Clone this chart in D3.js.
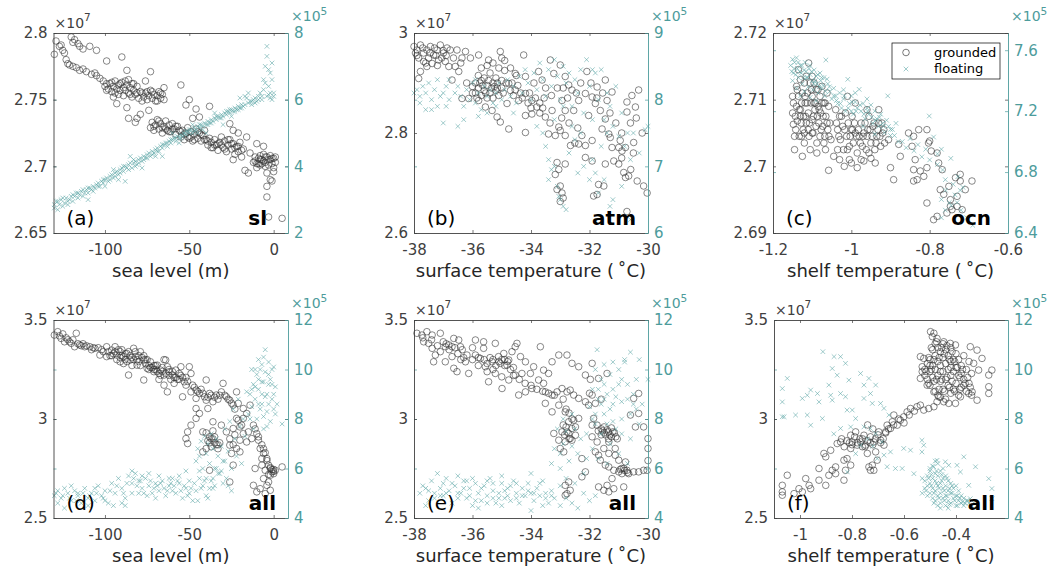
<!DOCTYPE html>
<html><head><meta charset="utf-8">
<script src="https://cdn.jsdelivr.net/npm/d3@7"></script>
<style>body{margin:0;background:#fff}text{font-family:"DejaVu Sans",sans-serif}</style>
</head><body><svg id="c" width="1056" height="576"></svg>
<script>
// ---------- data (flat x,y pairs); grounded in x10^7, floating in x10^5 ----------
const groundedSL = [-130,2.784,-129,2.794,-127,2.79,-126,2.791,-125,2.787,-124,2.785,-123,2.78,-122,2.777,-120,2.797,-119,2.793,-118,2.795,-116,2.792,-115,2.79,-113,2.788,-109,2.79,-105,2.787,
-121,2.776,-119,2.775,-117,2.774,-115,2.772,-113,2.773,-111,2.771,-108,2.769,-106,2.77,-105,2.768,-103,2.766,-101,2.764,-99,2.762,-99,2.779,-90,2.782,-87,2.772,-73,2.771,
-100,2.76,-98,2.758,-97,2.762,-96,2.756,-95,2.76,-94,2.764,-93,2.758,-92,2.754,-92,2.761,-91,2.757,-90,2.763,-89,2.759,-89,2.753,-88,2.757,-87,2.761,-86,2.755,-86,2.765,-85,2.759,-84,2.752,-84,2.762,-83,2.757,-82,2.754,-81,2.76,-80,2.751,-79,2.756,-93,2.747,-87,2.744,-95,2.752,
-78,2.749,-77,2.752,-76,2.755,-75,2.75,-74,2.753,-73,2.757,-72,2.751,-71,2.754,-70,2.749,-69,2.753,-68,2.756,-67,2.751,-66,2.754,-65,2.75,
-76,2.764,-65,2.759,-86,2.736,-81,2.736,-79,2.739,-74,2.742,-82,2.733,
-73,2.729,-72,2.733,-71,2.727,-70,2.731,-69,2.735,-68,2.728,-67,2.732,-66,2.725,-65,2.73,-64,2.734,-63,2.727,-62,2.731,-61,2.726,-60,2.732,-59,2.728,-58,2.724,-57,2.73,-56,2.727,
-55,2.761,-50,2.75,-52,2.746,-46,2.743,-38,2.745,-44,2.737,-48,2.736,
-55,2.722,-54,2.727,-53,2.72,-52,2.725,-51,2.729,-50,2.721,-49,2.726,-48,2.719,-47,2.724,-46,2.728,-45,2.721,-44,2.725,-43,2.719,-42,2.723,-41,2.727,-40,2.72,
-39,2.716,-38,2.721,-37,2.718,-36,2.714,-35,2.72,-34,2.716,-33,2.712,-32,2.718,-31,2.722,-30,2.714,-29,2.719,-28,2.711,-27,2.716,-26,2.72,-25,2.713,-24,2.717,-23,2.709,-22,2.715,-21,2.711,-20,2.718,-19,2.707,-18,2.713,
-26,2.732,-24,2.727,-21,2.725,-16,2.722,-10,2.717,-6,2.715,-24,2.705,-17,2.697,-15,2.695,-14,2.71,
-12,2.703,-11,2.707,-10,2.702,-9,2.706,-8,2.701,-7,2.705,-6,2.709,-5,2.703,-4,2.707,-3,2.701,-2,2.705,-1,2.702,0,2.706,1,2.703,-8,2.708,-5,2.7,-2,2.708,0,2.699,
-10,2.699,-4,2.695,-2,2.69,-4,2.685,-4,2.677,-1,2.689,0,2.696,-3,2.662,5,2.661,
-99,2.757,-96,2.763,-94,2.755,-91,2.762,-88,2.764,-85,2.754,-83,2.762,-81,2.755,-78,2.755,-75,2.756,-72,2.756,-69,2.749,-67,2.755,-71,2.73,-68,2.734,-66,2.729,-64,2.728,-62,2.726,-60,2.728,-58,2.73,-55,2.726,-53,2.724,-51,2.722,-49,2.722,-47,2.72,-45,2.726,-43,2.724,-41,2.72,-39,2.719,-37,2.714,-35,2.716,-33,2.717,-31,2.716,-29,2.713,-27,2.72,-25,2.717,-23,2.714,-21,2.715,-19,2.712,-11,2.704,-9,2.702,-7,2.702,-5,2.707,-3,2.705,-1,2.706,1,2.707,-6,2.704,-8,2.705];
const floatingSL = [-130,2.85,-130,2.75,-129,2.95,-128,2.7,-127,2.85,-126,3.0,-125,2.8,-124,2.9,-123,3.05,-122,2.95,-121,3.0,-120,3.1,-119,2.95,-118,3.1,-117,3.2,-116,3.05,-115,3.15,-114,3.25,-113,3.1,-112,3.2,-111,3.3,-110,3.2,-109,3.35,-108,3.3,-107,3.4,-106,3.35,-105,3.45,-104,3.5,-103,3.4,-102,3.55,-101,3.5,-100,3.6,-99,3.65,-98,3.55,-97,3.7,-96,3.75,-95,3.65,-94,3.8,-93,3.85,-92,3.75,-91,3.9,-90,3.95,-89,3.85,-88,4.0,-87,3.95,-86,4.05,-85,4.1,-84,3.95,-83,4.1,-82,4.15,-81,4.05,-80,4.2,-79,4.25,-78,4.15,-77,4.3,-76,4.25,-75,4.35,-74,4.4,-73,4.3,-72,4.45,-71,4.4,-70,4.5,-69,4.55,-68,4.45,-67,4.6,-66,4.55,-65,4.65,-64,4.7,-63,4.6,-62,4.75,-61,4.7,-60,4.8,-59,4.85,-58,4.75,-57,4.9,-56,4.85,-55,4.95,-54,4.9,-53,5.0,-52,4.95,-51,5.05,-50,5.0,-49,5.1,-48,5.0,-47,5.15,-46,5.1,-45,5.2,-44,5.15,-43,5.25,-42,5.2,-41,5.3,-40,5.25,-39,5.35,-38,5.3,-37,5.4,-36,5.35,-35,5.45,-34,5.4,-33,5.5,-32,5.45,-31,5.55,-30,5.5,-29,5.6,-28,5.55,-27,5.65,-26,5.6,-25,5.7,-24,5.65,-23,5.75,-22,5.7,-21,5.8,-20,5.75,-19,5.85,-18,5.8,-17,6.1,-16,6.05,-15,5.9,-14,5.95,-13,5.85,-12,6.0,-11,6.05,-10,5.95,-9,6.1,-8,6.2,-7,6.0,-6,6.3,-5,6.5,-4,6.1,-3,6.4,-2,6.2,-1,6.0,0,6.1,0,6.2,-1,6.6,
-6,6.6,-5,7.0,-4,7.3,-4,7.6,-2,6.8,-3,6.9,-1,7.1,-92,3.6,-88,3.55,-78,3.95,-85,4.3,-66,4.3,-60,5.0,-48,5.25,-30,5.25,-40,5.0,-110,3.0,-100,3.4,-95,3.9,-82,4.0,-70,4.3,-56,4.7,-45,5.0,-35,5.6,-25,5.5,-20,6.05,-15,6.2,
-128,2.95,-125,3.05,-122,2.85,-119,3.15,-116,3.2,-113,3.3,-110,3.35,-107,3.25,-104,3.4,-101,3.6,-97,3.6,-94,3.7,-91,3.8,-89,4.0,-86,3.9,-83,4.2,-80,4.1,-77,4.2,-75,4.25,-72,4.35,-69,4.45,-66,4.65,-63,4.7,-61,4.8,-58,4.85,-55,4.85,-52,5.05,-50,5.1,-47,5.05,-44,5.25,-42,5.1,-39,5.25,-37,5.3,-34,5.5,-31,5.45,-28,5.65,-26,5.7,-23,5.65,-21,5.7,-19,5.75,-17,5.85,-13,5.95,-11,5.9,-9,6.0,-7,6.1,-3,6.15,-2,6.05];

const groundedATM = [-38.0,2.973,-37.9,2.966,-37.78,2.976,-37.67,2.96,-37.56,2.966,-37.44,2.973,-37.33,2.956,-37.21,2.966,-37.1,2.976,-36.99,2.96,-36.87,2.97,-36.76,2.966,-37.84,2.95,-37.67,2.943,-37.38,2.939,-37.16,2.946,-36.93,2.943,-36.81,2.933,-37.78,2.923,-37.84,2.909,-37.56,2.933,-37.95,2.96,-37.5,2.95,-37.25,2.955,-37.05,2.95,
-36.53,2.966,-36.24,2.963,-36.36,2.95,-36.07,2.95,-35.79,2.956,-35.45,2.946,-35.05,2.963,-36.59,2.933,-36.47,2.923,-36.7,2.906,-36.36,2.869,-36.13,2.869,
-35.9,2.9,-35.8,2.89,-35.7,2.905,-35.6,2.885,-35.5,2.895,-35.4,2.88,-35.3,2.9,-35.2,2.885,-35.1,2.875,-35.0,2.89,-35.7,2.875,-35.5,2.87,-35.9,2.88,-35.3,2.87,-36.0,2.893,-35.6,2.91,-35.4,2.92,-35.2,2.91,-35.0,2.905,-35.8,2.915,-35.65,2.895,-35.45,2.905,-35.25,2.893,-35.15,2.9,
-35.7,2.93,-35.5,2.935,-35.3,2.94,-35.1,2.93,-34.9,2.925,-34.7,2.93,-34.5,2.915,-35.0,2.95,-34.9,2.945,
-34.76,2.899,-34.54,2.886,-34.42,2.865,-34.19,2.879,-33.97,2.865,-33.8,2.852,-33.97,2.838,-34.19,2.835,-34.6,2.875,-34.3,2.87,-34.05,2.88,-34.7,2.885,
-35.33,2.845,-35.16,2.832,-35.05,2.822,-34.76,2.808,-34.19,2.801,-35.79,2.865,-35.56,2.852,-34.82,2.859,
-34.25,2.956,-34.54,2.919,-34.19,2.913,-33.74,2.923,-33.62,2.906,-33.34,2.946,-33.0,2.936,-32.83,2.913,-33.22,2.919,-33.9,2.9,-33.5,2.89,
-33.51,2.832,-33.28,2.845,-33.4,2.798,-33.17,2.795,-33.05,2.812,-32.83,2.795,-32.83,2.845,-32.94,2.865,-32.6,2.886,-32.71,2.896,-32.37,2.865,-32.54,2.845,-32.37,2.778,-32.14,2.775,-31.91,2.785,-32.26,2.795,-32.03,2.835,-31.91,2.872,-32.14,2.879,-31.74,2.892,-31.46,2.906,-32.09,2.923,-31.8,2.859,-31.63,2.845,-31.46,2.828,-31.57,2.808,-31.34,2.798,-31.23,2.882,-31.4,2.865,-33.35,2.82,-33.6,2.85,-32.95,2.83,-32.5,2.78,-32.65,2.775,
-33.11,2.741,-33.05,2.727,-33.17,2.717,-32.83,2.738,-33.0,2.694,-32.94,2.68,-33.0,2.663,-33.11,2.687,-33.0,2.805,-32.9,2.67,
-32.14,2.751,-31.91,2.744,-31.69,2.697,-31.74,2.677,-31.86,2.674,-31.51,2.694,-31.46,2.738,
-31.23,2.771,-31.0,2.771,-30.89,2.764,-31.17,2.744,-31.0,2.738,-30.83,2.721,-30.66,2.714,-30.77,2.711,-30.59,2.727,-30.37,2.704,-30.15,2.694,-30.03,2.68,
-30.72,2.862,-30.72,2.842,-30.55,2.875,-30.43,2.852,-30.32,2.886,-30.49,2.781,-30.95,2.785,-31.29,2.791,-30.77,2.771,-30.72,2.643,
-37.9,2.955,-37.7,2.97,-37.45,2.96,-37.3,2.97,-37.0,2.965,-36.9,2.955,-37.6,2.94,-37.2,2.935,-36.65,2.95,-36.4,2.94,-36.2,2.9,-36.0,2.88,-35.85,2.87,-35.75,2.9,-35.55,2.88,-35.35,2.89,-35.15,2.89,-34.95,2.88,-34.85,2.9,-34.65,2.9,-34.45,2.895,-34.35,2.88,-34.1,2.86,-33.85,2.87,-33.7,2.86,-33.55,2.87,-33.3,2.875,-33.1,2.89,-32.9,2.89,-32.75,2.87,-32.45,2.88,-32.3,2.9,-31.95,2.9,-31.75,2.87,-31.55,2.88,-31.3,2.84,-31.1,2.82,-30.9,2.8,-30.6,2.82,-30.4,2.83,-30.2,2.8,-30.5,2.76,-30.9,2.75,-32.7,2.82,-32.4,2.81,-33.7,2.84,-34.0,2.85];
const floatingATM = [-38,8.1,-37.9,8.15,-37.8,8.05,-37.7,8.2,-37.6,8.1,-37.5,8.25,-37.4,8.0,-37.3,8.15,-37.2,8.3,-37.1,8.05,-37.0,8.1,-36.9,8.2,-36.8,8.0,-37.8,7.95,-37.6,7.85,-37.4,7.85,-37.0,7.65,-36.9,7.9,-37.2,7.9,-36.6,8.1,-36.5,8.2,-36.4,8.05,-36.3,7.9,-36.2,8.15,-36.1,8.0,-36.0,8.25,-35.9,7.95,-35.8,8.1,-35.7,7.85,-35.6,8.2,-35.5,8.05,-35.4,8.15,-35.3,7.95,-35.2,8.1,-35.1,8.25,-35.0,8.0,-34.9,8.15,-36.3,7.7,-35.8,7.75,-35.5,7.8,-36.5,7.6,-34.8,8.3,-34.7,8.05,-34.6,8.2,-34.5,7.95,-34.4,8.35,-34.3,8.1,-34.2,8.45,-34.1,8.25,-34.0,8.0,-33.9,8.4,-33.8,8.15,-33.7,8.55,-33.6,8.3,-33.5,8.05,-33.4,8.45,-33.3,8.2,-33.2,8.6,-33.1,8.35,-33.0,8.0,-32.9,8.5,-32.8,8.25,-32.7,8.4,-32.6,7.9,-32.5,8.3,-32.4,8.1,-32.3,8.45,-32.2,7.8,-32.1,8.6,-32.0,8.2,-31.9,8.45,-31.8,8.4,-31.7,8.0,-31.6,8.45,-31.5,7.7,-31.4,8.1,-31.3,7.9,-31.2,7.6,-31.1,8.2,-31.0,7.45,-30.9,7.8,-30.8,7.3,-30.7,7.5,-30.6,7.1,-30.5,7.5,-30.3,7.2,-30.1,7.55,
-33.8,7.6,-33.5,7.3,-33.4,7.1,-33.3,6.95,-33.4,6.8,-33.2,7.0,-33.1,6.7,-33.0,6.5,-32.9,6.4,-32.8,6.35,-33.05,6.55,-32.7,7.2,-32.5,7.4,-32.4,6.9,-32.2,7.0,-32.0,6.8,-31.9,7.1,-31.8,6.9,-31.7,6.6,-31.5,6.8,-31.3,6.4,-31.2,6.5,-30.9,6.7,-30.6,6.2,-31.6,7.3,-32.3,7.5,-33.6,7.5,-33.2,7.7,-32.9,7.9,-32.6,7.6,-31.9,7.7,-31.4,7.5,-30.0,7.6,-35.2,7.9,-34.6,7.8,-36.8,8.3,-35.9,8.3];

const groundedOCN = [-1.15,2.7105,-1.15,2.708,-1.148,2.7063,-1.145,2.7045,-1.14,2.712,-1.14,2.709,-1.138,2.7068,-1.135,2.7105,-1.133,2.7045,-1.13,2.713,-1.13,2.7085,-1.128,2.7065,-1.125,2.711,-1.122,2.7075,-1.12,2.705,-1.12,2.7125,-1.118,2.7095,-1.115,2.7065,-1.112,2.711,-1.11,2.708,-1.109,2.7155,-1.108,2.7045,-1.105,2.7125,-1.103,2.7095,-1.1,2.707,-1.1,2.7105,-1.098,2.705,-1.095,2.7125,-1.093,2.7085,-1.09,2.706,-1.09,2.7115,-1.088,2.7035,-1.085,2.709,-1.083,2.7065,-1.08,2.7105,-1.08,2.7045,-1.078,2.708,-1.075,2.712,-1.073,2.706,-1.07,2.7095,-1.068,2.7045,-1.065,2.7075,-1.062,2.711,-1.06,2.7055,-1.058,2.709,-1.055,2.7065,-1.052,2.704,-1.088,2.702,-1.066,2.7025,-1.058,2.6994,-1.12,2.7035,-1.105,2.7025,-1.145,2.7025,-1.135,2.7145,-1.115,2.7135,-1.095,2.7095,-1.075,2.7095,-1.11,2.7055,-1.13,2.7075,
-1.04,2.7085,-1.035,2.7055,-1.03,2.7075,-1.028,2.704,-1.022,2.706,-1.02,2.7025,-1.015,2.708,-1.012,2.7045,-1.008,2.7065,-1.005,2.703,-1.0,2.7055,-0.998,2.7075,-0.995,2.7035,-0.99,2.705,-0.985,2.702,-0.98,2.7045,-0.975,2.7065,-0.972,2.703,-0.968,2.705,-0.962,2.7025,-0.958,2.7055,-0.955,2.7075,-0.95,2.7035,-0.945,2.706,-0.94,2.7025,-0.935,2.7045,-0.93,2.7065,-0.925,2.703,-0.92,2.705,-0.915,2.7035,-1.045,2.7015,-1.03,2.701,-1.018,2.7,-1.0,2.7005,-0.985,2.6998,-0.968,2.7008,-0.95,2.7012,-0.939,2.7005,-0.9,2.6998,-0.892,2.698,-0.875,2.7015,-0.879,2.7033,-0.99,2.7095,-1.01,2.7105,-0.96,2.7085,-0.93,2.7085,-0.905,2.704,
-0.854,2.705,-0.841,2.7045,-0.845,2.703,-0.837,2.701,-0.841,2.6995,-0.832,2.698,-0.841,2.6978,-0.824,2.6993,-0.815,2.6985,-0.807,2.6998,-0.828,2.7055,-0.807,2.7055,-0.803,2.7035,-0.8,2.7038,-0.796,2.7023,-0.807,2.6945,-0.781,2.702,-0.777,2.7005,-0.768,2.6995,-0.773,2.6965,-0.764,2.6958,-0.751,2.697,-0.747,2.695,-0.747,2.694,-0.756,2.693,-0.781,2.6925,-0.79,2.692,-0.743,2.6935,-0.73,2.6955,-0.722,2.6978,-0.722,2.6988,-0.734,2.6983,-0.717,2.6935,-0.73,2.694,-0.692,2.6978,-0.709,2.6965,
-1.148,2.7095,-1.143,2.7075,-1.138,2.7115,-1.133,2.7085,-1.127,2.7095,-1.123,2.7055,-1.117,2.7075,-1.113,2.7095,-1.107,2.7065,-1.102,2.7115,-1.097,2.7075,-1.092,2.7095,-1.087,2.7075,-1.082,2.7085,-1.077,2.7055,-1.072,2.7075,-1.067,2.7095,-1.062,2.7065,-1.057,2.7045,-1.142,2.7055,-1.127,2.7045,-1.118,2.7105,-1.1,2.7135,-1.085,2.7115,-1.07,2.7035,-1.1,2.705,-1.125,2.7015,
-1.038,2.7065,-1.032,2.7045,-1.025,2.7075,-1.017,2.7055,-1.01,2.7025,-1.003,2.7045,-0.997,2.7055,-0.992,2.7065,-0.987,2.7045,-0.982,2.7055,-0.977,2.7035,-0.97,2.7045,-0.965,2.7065,-0.96,2.7045,-0.952,2.7055,-0.947,2.7045,-0.942,2.7065,-0.937,2.7035,-0.932,2.7055,-0.927,2.7045,-0.922,2.7065,-0.917,2.7055,-1.035,2.7025,-1.005,2.701,-0.975,2.701,-0.955,2.702];
const floatingOCN = [-1.155,7.5,-1.15,7.54,-1.148,7.45,-1.145,7.52,-1.14,7.55,-1.138,7.48,-1.135,7.42,-1.13,7.5,-1.128,7.45,-1.125,7.38,-1.12,7.47,-1.118,7.52,-1.115,7.42,-1.11,7.36,-1.108,7.48,-1.105,7.44,-1.1,7.4,-1.098,7.34,-1.095,7.47,-1.09,7.43,-1.088,7.38,-1.085,7.32,-1.08,7.45,-1.078,7.4,-1.075,7.35,-1.07,7.42,-1.068,7.3,-1.065,7.536,-1.06,7.38,-1.055,7.33,-1.05,7.28,-1.045,7.35,-1.15,7.4,-1.14,7.35,-1.13,7.3,-1.12,7.33,-1.105,7.29,-1.09,7.27,
-1.04,7.3,-1.035,7.25,-1.03,7.32,-1.025,7.22,-1.02,7.28,-1.015,7.2,-1.009,7.409,-1.005,7.25,-1.0,7.3,-0.995,7.18,-0.99,7.26,-0.985,7.22,-0.98,7.343,-0.975,7.2,-0.97,7.25,-0.965,7.15,-0.96,7.22,-0.955,7.18,-0.95,7.24,-0.945,7.12,-0.94,7.2,-0.935,7.15,-0.93,7.1,-0.925,7.18,-0.92,7.12,-0.915,7.06,-0.907,7.3,-0.905,7.1,-0.9,7.04,-0.895,7.08,-0.886,7.12,-1.02,7.34,-0.99,7.32,-0.96,7.28,-1.0,7.2,-0.97,7.1,-0.94,7.05,
-0.87,7.0,-0.86,6.96,-0.85,7.02,-0.84,6.94,-0.83,6.98,-0.82,6.9,-0.801,7.168,-0.79,7.03,-0.81,6.95,-0.8,6.88,-0.78,6.92,-0.77,6.95,-0.767,6.814,-0.759,6.68,-0.77,6.62,-0.746,6.89,-0.728,6.77,-0.722,6.68,-0.74,6.72,-0.75,6.6,-0.735,6.65,-0.76,6.55,-0.745,6.58,-0.73,6.6,-0.715,6.7,-0.72,6.55,-0.705,6.5,-0.69,6.45,-0.77,6.5,-0.78,6.85,-0.76,6.75,
-1.152,7.46,-1.146,7.48,-1.142,7.44,-1.136,7.52,-1.132,7.46,-1.126,7.5,-1.122,7.42,-1.116,7.46,-1.112,7.42,-1.106,7.5,-1.102,7.46,-1.096,7.38,-1.092,7.4,-1.086,7.44,-1.082,7.36,-1.076,7.42,-1.072,7.37,-1.066,7.33,-1.062,7.41,-1.056,7.36,-1.045,7.3,-1.038,7.27,-1.028,7.25,-1.018,7.3,-1.008,7.22,-0.998,7.26,-0.988,7.2,-0.978,7.24,-0.968,7.18,-0.958,7.2,-0.948,7.16,-0.938,7.14,-0.928,7.16,-0.918,7.1,-0.91,7.14,-0.9,7.08,-0.89,7.04,-0.88,7.0];

const groundedSLall = [-130,3.424,-128,3.441,-126,3.407,-124,3.39,-120,3.382,-117,3.433,-118,3.365,-115,3.374,-112,3.365,-109,3.365,-106,3.357,-103,3.323,-99,3.365,-96,3.348,-99,3.315,-94,3.365,-93,3.323,-91,3.289,-89,3.315,-87,3.331,-85,3.298,-83,3.357,-82,3.315,-81,3.272,-79,3.34,-77,3.298,-75,3.256,-73,3.289,-71,3.239,-69,3.272,-67,3.247,-65,3.222,-64,3.298,-63,3.264,-62,3.239,-60,3.222,-58,3.247,-56,3.23,-53,3.188,-50,3.264,-49,3.23,-65,3.171,-63,3.137,-54,3.112,-86,3.222,-77,3.197,
-95,3.33,-92,3.35,-90,3.32,-88,3.3,-86,3.34,-84,3.31,-81,3.3,-78,3.31,-76,3.28,-74,3.27,-72,3.26,-70,3.25,-68,3.23,-66,3.26,-61,3.2,-59,3.21,-57,3.2,-55,3.22,-52,3.21,-55,3.264,-65,3.3,
-122,3.4,-113,3.38,-108,3.35,-104,3.36,-101,3.34,-97,3.32,-91,3.34,-89,3.28,-84,3.27,-80,3.32,-75,3.3,-71,3.27,-68,3.2,-62,3.25,-59,3.18,
-48,3.171,-46,3.146,-44,3.129,-41,3.112,-38,3.129,-34,3.121,-31,3.137,-28,3.112,-26,3.095,-24,3.07,-21,3.079,-22,3.137,-40,3.197,-30,3.18,-49,3.137,-46,3.104,-40,3.095,-36,3.087,-52,3.171,-43,3.15,-33,3.1,
-46,3.053,-46,3.003,-49,2.969,-51,2.935,-52,2.901,-51,2.876,-44,3.028,-42,2.935,-40,2.851,-42,2.834,-38,2.741,
-40,2.93,-38,2.91,-36,2.9,-35,2.88,-37,2.86,-34,2.87,-33,2.85,-39,2.89,-36,2.94,-32,2.88,
-39,3.053,-36,2.986,-31,2.969,-28,2.935,-26,2.868,-25,2.826,-26,2.682,-24,2.767,-22,2.851,-20,2.893,-18,2.926,-19,2.969,-24,2.952,-21,2.994,-18,3.003,-16,3.028,-15,2.935,-13,2.901,-16,2.884,
-12,2.969,-10,2.926,-9,2.893,-8,2.851,-6,2.826,-4,2.8,-3,2.767,-1,2.733,0,2.724,-2,2.716,1,2.741,5,2.758,-11,2.75,-7,2.767,-5,2.741,-6,2.699,-4,2.665,-2,2.64,-5,2.623,-12,2.665,-10,2.632,-8,2.648,-3,2.682,-20,2.834,-14,3.07,-18,3.053,-22,3.003,-1,2.745,0,2.735,-2,2.755,
-127,3.42,-125,3.43,-123,3.41,-121,3.39,-119,3.4,-116,3.38,-114,3.37,-111,3.37,-107,3.36,-102,3.35,-98,3.34,-96,3.32,-94,3.34,-93,3.3,-91,3.31,-90,3.35,-88,3.33,-87,3.29,-85,3.32,-83,3.3,-82,3.34,-80,3.29,-79,3.27,-77,3.32,-76,3.3,-74,3.25,-73,3.26,-71,3.25,-70,3.27,-69,3.24,-67,3.22,-66,3.24,-64,3.23,-62,3.22,-60,3.24,-58,3.21,-56,3.2,-54,3.21,-51,3.19,-47,3.16,-45,3.14,-42,3.13,-39,3.11,-37,3.12,-35,3.11,-32,3.12,-29,3.12,-27,3.1,-25,3.08,-23,3.05,-37,2.9,-35,2.91,-33,2.87,-38,2.88,-26,2.9,-24,2.87,-23,2.92,-20,2.96,-11,2.95,-9,2.91,-7,2.87,-5,2.83,-4,2.79,-2,2.75,0,2.745,-3,2.72,-7,2.8,-6,2.85];
const floatingSLall = [-130,4.9,-128,4.6,-126,4.8,-124,4.4,-122,5.0,-120,4.7,-118,5.1,-116,4.9,-114,4.6,-112,5.2,-110,4.8,-108,5.0,-106,4.7,-104,5.3,-102,4.9,-100,5.1,-98,4.6,-96,5.4,-94,5.0,-92,5.6,-90,5.2,-88,4.8,-86,5.7,-84,5.4,-82,5.8,-80,5.5,-78,5.2,-76,5.6,-74,5.3,-72,5.0,-70,5.4,-68,5.1,-66,5.5,-64,4.9,-62,5.3,-60,5.6,-58,5.0,-56,5.4,-54,4.8,-52,5.2,-50,5.5,-48,4.7,-46,5.1,-44,5.6,-42,5.3,-40,4.9,-38,5.2,-36,5.6,-88,4.5,-90,4.6,-95,4.5,-100,4.7,-110,4.5,-84,5.0,-80,5.0,-75,4.9,-70,4.8,-65,5.2,-60,5.1,-55,5.1,-50,5.0,-45,4.7,-84,5.9,-78,5.7,-74,5.8,-68,5.7,-62,5.6,-56,5.7,-52,5.9,-47,5.4,-128,5.1,-124,5.2,-120,5.3,-116,5.0,-106,5.2,
-46,6.3,-45,6.8,-44,6.5,-43,7.1,-42,6.0,-41,7.3,-40,6.6,-39,7.0,-38,6.2,-37,7.4,-36,6.8,-35,6.0,-34,7.2,-33,6.5,-32,5.8,-31,6.9,-30,6.3,-29,7.6,-28,5.6,-27,6.7,-26,7.9,-25,6.0,-24,8.4,-23,7.2,-22,6.5,-21,8.8,-20,7.7,-19,6.2,-18,8.0,-17,7.3,-44,5.9,-40,5.6,-36,5.2,-33,5.8,-30,5.4,-27,5.3,-25,5.1,
-15,8.2,-14,9.0,-13,8.5,-12,9.4,-11,8.8,-10,9.8,-9,9.2,-8,10.0,-7,8.6,-6,9.5,-5,10.8,-4,9.0,-3,10.3,-2,9.6,-1,8.8,0,10.1,1,9.3,2,8.6,-10,8.0,-8,8.4,-6,8.1,-4,8.3,-2,7.9,0,8.4,-12,7.6,-9,10.4,-7,10.2,-5,9.9,-3,9.4,-1,10.0,5,7.8,-16,9.1,-13,10.0,-11,10.0,-6,7.6,-4,7.7,0,9.0,-3,8.6,-7,9.0,-9,8.6,
-129,5.0,-125,4.9,-121,4.8,-117,4.7,-113,5.0,-109,4.9,-105,5.0,-101,4.8,-97,5.1,-93,5.3,-89,5.0,-87,5.4,-83,5.6,-81,5.3,-79,5.5,-77,5.0,-73,5.5,-71,5.2,-69,5.3,-67,5.4,-63,5.1,-61,5.4,-59,5.3,-57,5.5,-53,5.3,-51,4.9,-49,5.2,-43,5.2,-41,5.5,-39,4.8,-37,5.5,-35,5.3,-34,6.0,-31,5.9,-29,6.3,-11,9.3,-9,9.6,-7,9.5,-5,8.9,-3,9.8,-1,9.4,1,8.2,-13,9.2,-14,8.0,-6,10.5];

const groundedATMall = [-37.9,3.433,-37.73,3.424,-37.56,3.441,-37.38,3.424,-37.1,3.433,-37.67,3.39,-37.5,3.382,-37.38,3.357,-37.27,3.323,-37.33,3.289,-37.1,3.34,-36.93,3.365,-36.81,3.374,-36.7,3.365,-36.64,3.407,-36.47,3.399,-36.41,3.365,-36.93,3.289,-36.7,3.315,-36.64,3.256,-36.53,3.239,-36.24,3.289,-36.13,3.23,-36.19,3.323,-35.9,3.399,-35.62,3.39,-35.62,3.357,-35.9,3.323,-35.73,3.306,-35.56,3.264,-35.5,3.239,-35.33,3.289,-35.22,3.382,-35.11,3.315,-35.05,3.281,-34.93,3.331,-34.82,3.272,-34.76,3.298,-34.65,3.34,-34.54,3.365,-34.48,3.382,-34.36,3.315,-34.19,3.289,-34.02,3.23,-34.31,3.23,-34.54,3.222,-34.76,3.197,-35.0,3.213,-35.22,3.23,-35.45,3.188,-34.99,3.154,-34.42,3.121,-34.19,3.137,-33.97,3.154,-33.91,3.264,-33.68,3.365,-33.57,3.247,-33.74,3.197,-33.57,3.18,-33.4,3.23,-33.51,3.137,-33.28,3.121,-33.11,3.137,-33.28,3.289,-33.05,3.323,-32.77,3.323,-32.6,3.281,-32.37,3.264,-32.14,3.222,-31.91,3.281,-31.69,3.205,-31.4,3.23,-31.97,3.2,
-32.94,3.154,-32.77,3.137,-32.66,3.146,-32.54,3.121,-32.37,3.104,-32.14,3.087,-32.03,3.07,-33.05,3.07,-32.83,3.036,-32.71,2.986,-32.6,2.952,-32.71,2.927,-32.83,2.885,-33.0,2.851,-32.88,2.834,-33.05,2.893,-32.6,2.893,-32.48,2.918,-32.26,2.8,-32.14,2.733,-32.26,2.708,-32.54,2.994,-32.48,2.96,-32.37,3.003,-32.77,2.935,-32.66,2.901,
-32.77,2.623,-32.83,2.615,-32.66,2.64,-32.71,2.682,-32.83,2.665,
-31.91,3.121,-31.8,3.079,-31.86,3.003,-31.91,2.969,-31.91,2.91,-31.74,2.884,-31.8,2.834,-31.69,2.817,-31.63,2.792,-31.46,2.767,-31.34,2.758,-31.17,2.741,-31.0,2.733,-30.89,2.724,-30.72,2.741,-30.83,2.75,-30.66,2.724,-30.49,2.733,-30.32,2.733,-30.15,2.741,-30.03,2.741,-30.0,2.79,-30.0,2.851,-30.0,2.901,-30.15,2.96,-30.32,3.028,-30.32,3.129,-30.49,3.104,
-31.7,2.94,-31.6,2.95,-31.5,2.93,-31.4,2.945,-31.3,2.92,-31.2,2.935,-31.1,2.91,-31.5,2.96,-31.35,2.9,-31.25,2.955,-31.6,2.92,
-31.12,2.851,-31.12,2.817,-31.0,2.792,-30.77,2.783,-31.23,2.699,-31.4,2.665,-31.17,2.648,-30.83,2.657,-31.69,2.657,-31.51,2.64,-31.34,2.632,-31.34,2.884,-31.34,2.826,-31.51,2.851,-31.74,2.969,
-33.51,3.079,-33.28,3.036,-33.22,2.927,-32.94,2.935,-30.43,2.96,-30.6,3.02,-36.4,3.3,-35.8,3.27,-35.3,3.25,-34.9,3.3,-34.6,3.26,-36.0,3.36,-37.0,3.39,-36.35,3.35,
-37.7,3.41,-37.4,3.4,-37.2,3.37,-36.9,3.38,-36.8,3.35,-36.6,3.36,-36.5,3.33,-36.3,3.31,-36.0,3.3,-35.8,3.31,-35.6,3.3,-35.5,3.28,-35.4,3.31,-35.3,3.3,-35.2,3.27,-35.1,3.29,-35.0,3.3,-34.9,3.27,-34.8,3.29,-34.7,3.25,-34.6,3.22,-34.4,3.2,-34.2,3.18,-34.0,3.17,-33.8,3.15,-33.6,3.14,-33.4,3.13,-33.2,3.12,-32.9,3.1,-32.8,3.05,-32.7,3.03,-32.9,2.97,-32.8,2.96,-32.6,3.0,-32.7,2.9,-32.85,2.92,-31.45,2.92,-31.35,2.935,-31.25,2.91,-31.55,2.94,-31.15,2.93,-31.05,2.9,-30.9,2.75,-30.8,2.74,-30.95,2.745,-30.7,2.73,-32.0,3.13,-31.6,3.1];
const floatingATMall = [-37.8,5.0,-37.6,5.2,-37.5,4.7,-37.4,5.5,-37.3,5.0,-37.2,5.8,-37.1,4.9,-37.0,5.4,-36.9,5.6,-36.8,5.1,-36.7,4.6,-36.6,5.3,-36.5,5.7,-36.4,5.0,-36.3,5.5,-36.2,4.8,-36.1,5.2,-36.0,4.5,-35.9,5.4,-35.8,5.0,-35.7,4.7,-35.6,5.3,-35.5,4.9,-35.4,5.6,-35.3,5.1,-35.2,4.6,-35.1,5.0,-35.0,5.4,-34.9,4.8,-34.8,5.2,-34.7,4.7,-34.6,5.5,-34.5,5.0,-34.4,4.6,-34.3,5.2,-34.2,4.9,-34.1,5.4,-34.0,5.0,-33.9,4.7,-33.8,5.2,-33.7,4.9,-33.6,5.5,-33.5,5.0,-33.4,4.6,-33.3,5.1,-33.2,4.8,-35.8,4.4,-35.0,4.5,-34.0,4.3,-33.0,4.5,-36.5,5.0,-36.0,5.6,-35.5,5.5,-35.0,5.7,-34.5,5.4,-34.0,5.8,-33.0,5.3,-33.6,4.5,-32.8,4.8,-32.6,4.6,-32.4,4.4,-32.2,5.0,-32.0,4.7,-31.8,4.9,-37.6,4.5,-37.0,4.9,-36.2,5.5,-35.3,4.8,-34.8,4.9,
-33.0,6.0,-33.0,6.6,-32.9,7.0,-32.8,7.5,-32.9,8.0,-32.7,6.3,-32.6,6.9,-32.5,7.6,-32.6,8.2,-32.4,6.6,-32.3,7.2,-32.2,5.8,-32.1,6.4,-33.1,7.6,-33.2,6.8,-33.3,6.2,-32.8,5.6,-32.5,5.4,
-32.0,8.5,-31.9,9.2,-31.8,7.8,-31.7,8.8,-31.6,9.6,-31.5,8.2,-31.4,9.0,-31.3,9.8,-31.2,8.6,-31.1,7.6,-31.0,9.4,-30.9,8.0,-30.8,10.4,-30.7,8.8,-30.6,7.2,-30.5,9.0,-30.4,8.4,-30.3,7.8,-30.2,8.6,-30.0,9.6,-31.8,10.0,-31.5,10.2,-31.2,10.3,-31.0,10.0,-30.8,10.3,-31.6,7.4,-31.3,7.0,-31.0,6.6,-30.7,6.2,-31.9,6.8,-32.1,7.4,-31.7,6.4,-31.4,6.2,-30.9,7.4,-30.6,8.2,-30.4,9.6,-30.3,10.4,-31.2,9.2,-31.5,8.8,-31.8,8.2,-30.9,9.6,-31.74,10.8,-30.6,10.7,
-37.7,5.3,-37.5,5.1,-37.3,4.8,-37.1,5.2,-36.9,5.0,-36.7,5.4,-36.5,4.8,-36.3,5.2,-36.1,4.9,-35.9,4.7,-35.7,5.2,-35.5,4.6,-35.3,5.4,-35.1,4.8,-34.9,5.1,-34.7,5.3,-34.5,4.8,-34.3,4.9,-34.1,5.1,-33.9,5.0,-33.7,5.4,-33.5,4.8,-33.3,4.9,-31.9,8.0,-31.7,9.2,-31.5,9.4,-31.3,8.4,-31.1,8.9,-30.9,8.7,-30.7,9.4,-30.5,8.6,-31.6,8.6,-31.4,7.8,-31.2,7.9];

const groundedOCNall = [-1.068,2.632,-1.068,2.615,-1.068,2.665,-1.049,2.716,-1.023,2.623,-1.004,2.648,-0.991,2.632,-0.978,2.699,-0.965,2.665,-0.959,2.648,-0.927,2.691,-0.927,2.75,-0.901,2.665,-0.908,2.826,-0.901,2.809,-0.882,2.842,-0.889,2.716,-0.876,2.741,-0.863,2.758,-0.863,2.724,-0.857,2.876,-0.844,2.884,-0.831,2.792,-0.831,2.691,-0.825,2.741,-0.819,2.8,-0.805,2.767,-0.805,2.851,-0.805,2.918,-0.799,2.884,-0.786,2.935,-0.78,2.868,-0.767,2.884,-0.754,2.918,-0.748,2.868,-0.741,2.826,-0.735,2.758,-0.729,2.741,-0.722,2.767,-0.716,2.741,-0.729,2.91,-0.716,2.884,-0.709,2.834,-0.703,2.792,-0.697,2.935,-0.69,2.893,-0.677,2.868,-0.671,2.935,-0.665,2.969,-0.652,2.952,-0.645,2.986,-0.639,3.02,-0.626,2.969,-0.614,2.994,-0.601,3.011,-0.588,3.036,-0.575,3.053,-0.55,3.062,-0.537,3.07,-0.524,3.045,-0.505,3.053,-0.485,3.062,-0.473,3.087,
-0.77,2.9,-0.76,2.86,-0.74,2.89,-0.72,2.87,-0.79,2.91,-0.81,2.88,-0.83,2.86,-0.84,2.9,-0.7,2.92,-0.68,2.9,-0.66,2.95,-0.72,2.95,-0.74,2.97,-0.62,3.0,-0.6,2.98,
-0.52,3.22,-0.52,3.25,-0.51,3.2,-0.51,3.28,-0.5,3.3,-0.5,3.24,-0.5,3.17,-0.49,3.35,-0.49,3.27,-0.49,3.21,-0.48,3.38,-0.48,3.32,-0.48,3.25,-0.48,3.14,-0.47,3.36,-0.47,3.29,-0.47,3.22,-0.47,3.12,-0.46,3.34,-0.46,3.27,-0.46,3.19,-0.46,3.11,-0.45,3.38,-0.45,3.31,-0.45,3.24,-0.45,3.15,-0.44,3.35,-0.44,3.28,-0.44,3.2,-0.44,3.1,-0.43,3.32,-0.43,3.25,-0.43,3.17,-0.42,3.36,-0.42,3.29,-0.42,3.22,-0.42,3.13,-0.41,3.3,-0.41,3.24,-0.41,3.15,-0.4,3.33,-0.4,3.26,-0.4,3.18,-0.39,3.3,-0.39,3.22,-0.39,3.12,-0.38,3.27,-0.38,3.16,-0.37,3.32,-0.37,3.2,-0.36,3.25,-0.36,3.14,-0.35,3.29,-0.35,3.18,-0.34,3.12,-0.34,3.23,
-0.498,3.441,-0.485,3.433,-0.491,3.416,-0.473,3.407,-0.447,3.39,-0.422,3.382,-0.402,3.374,
-0.345,3.365,-0.319,3.348,-0.3,3.306,-0.332,3.281,-0.313,3.247,-0.274,3.222,-0.262,3.247,-0.274,3.163,-0.274,3.129,-0.319,3.095,-0.351,3.129,-0.37,3.171,-0.338,3.137,-0.383,3.112,-0.402,3.079,-0.428,3.079,-0.447,3.087,-0.466,3.112,-0.485,3.137,-0.511,3.171,-0.53,3.239,-0.537,3.315,-0.524,3.306,-0.537,3.205,-0.53,3.264,
-0.515,3.24,-0.505,3.31,-0.495,3.25,-0.485,3.3,-0.475,3.2,-0.465,3.31,-0.455,3.2,-0.445,3.33,-0.435,3.21,-0.425,3.3,-0.415,3.19,-0.405,3.29,-0.395,3.26,-0.385,3.21,-0.375,3.25,-0.365,3.18,-0.495,3.36,-0.475,3.39,-0.455,3.36,-0.435,3.37,-0.415,3.34,-0.505,3.18,-0.485,3.19,-0.465,3.15,-0.445,3.14,-0.425,3.16,-0.405,3.14,-0.385,3.15,-0.355,3.21,-0.345,3.16,-0.5,3.27,-0.46,3.24,-0.42,3.26,-0.38,3.23,
-0.78,2.88,-0.76,2.9,-0.75,2.86,-0.73,2.88,-0.8,2.87,-0.82,2.89,-0.71,2.9,-0.69,2.88,-0.67,2.93,-0.64,2.97,-0.58,3.02,-0.56,3.04];
const floatingOCNall = [-1.068,9.23,-1.068,8.69,-1.068,8.09,-1.061,8.09,-1.049,9.64,-1.017,8.16,-0.991,8.83,-0.972,8.16,-0.959,7.75,-0.972,8.96,-0.959,9.17,-0.933,9.03,-0.927,8.69,-0.914,8.02,-0.912,10.72,-0.889,9.37,-0.882,8.96,-0.876,8.76,-0.876,10.04,-0.869,10.52,-0.857,9.77,-0.844,10.52,-0.844,9.03,-0.825,10.25,-0.825,8.9,-0.819,8.36,-0.812,9.57,-0.799,8.36,-0.786,8.02,-0.767,9.84,-0.754,9.37,-0.754,8.83,-0.735,9.64,-0.729,9.03,-0.722,8.63,-0.709,9.37,-0.69,8.63,-0.677,8.43,-0.658,8.16,-0.87,7.4,-0.805,7.68,-0.754,7.68,-0.729,7.62,
-0.786,6.6,-0.767,6.94,-0.709,7.41,-0.684,7.08,-0.677,6.54,-0.652,6.67,-0.633,6.0,-0.601,6.81,-0.575,6.74,-0.607,6.0,-0.562,5.79,-0.531,7.14,-0.524,6.94,-0.665,6.07,-0.703,6.4,-0.818,5.86,-0.844,7.62,-0.74,7.2,-0.72,6.9,
-0.52,5.2,-0.52,5.5,-0.51,4.9,-0.51,5.3,-0.51,5.7,-0.5,5.0,-0.5,5.4,-0.5,5.9,-0.49,4.8,-0.49,5.2,-0.49,5.6,-0.49,6.1,-0.48,4.7,-0.48,5.1,-0.48,5.5,-0.48,5.8,-0.47,4.9,-0.47,5.3,-0.47,5.7,-0.47,6.2,-0.46,4.6,-0.46,5.0,-0.46,5.4,-0.46,5.9,-0.45,4.8,-0.45,5.2,-0.45,5.6,-0.44,4.5,-0.44,4.9,-0.44,5.3,-0.44,5.7,-0.43,4.7,-0.43,5.1,-0.43,5.5,-0.42,4.6,-0.42,5.0,-0.42,5.4,-0.41,4.8,-0.41,5.2,-0.4,4.5,-0.4,4.9,-0.4,5.3,-0.39,4.7,-0.39,5.1,-0.38,4.6,-0.38,4.9,-0.37,4.5,-0.37,4.8,-0.36,4.7,-0.35,4.6,-0.34,4.5,-0.33,4.6,-0.32,4.5,-0.46,4.4,-0.43,4.4,-0.48,6.3,-0.5,6.0,-0.53,5.6,-0.53,5.0,-0.47,4.5,-0.45,6.0,
-0.531,6.67,-0.473,6.33,-0.428,6.13,-0.396,6.13,-0.37,6.47,-0.383,5.86,-0.351,5.32,-0.325,6.07,-0.274,5.59,-0.262,5.19,-0.262,4.78,-0.441,6.27,-0.486,6.07,-0.345,4.78,
-0.515,5.1,-0.505,5.6,-0.495,5.3,-0.485,5.0,-0.475,5.4,-0.465,5.2,-0.455,5.5,-0.445,5.1,-0.435,4.9,-0.425,5.2,-0.415,5.0,-0.405,4.7,-0.395,4.9,-0.385,4.8,-0.375,4.65,-0.365,4.6,-0.355,4.7,-0.495,5.75,-0.475,5.9,-0.455,5.75,-0.435,5.6,-0.415,5.3,-0.485,4.6,-0.465,4.8,-0.445,4.7,-0.425,4.55,-0.395,4.5];

// ---------- axis domains and ticks ----------
const xDomSL = [-130.5, 8.5],  xTicksSL = [-100, -50, 0];
const xDomATM = [-38, -30],    xTicksATM = [-38, -36, -34, -32, -30];
const xDomOCN = [-1.2, -0.6],  xTicksOCN = [-1.2, -1, -0.8, -0.6];
const xDomOCNall = [-1.1, -0.2], xTicksOCNall = [-1, -0.8, -0.6, -0.4];
const yDomA = [2.65, 2.8],  yTicksA = [2.65, 2.7, 2.75, 2.8];
const yDomB = [2.6, 3.0],   yTicksB = [2.6, 2.8, 3];
const yDomC = [2.69, 2.72], yTicksC = [2.69, 2.7, 2.71, 2.72];
const yDomAll = [2.5, 3.5], yTicksAll = [2.5, 3, 3.5];
const rDomA = [2, 8],  rTicksA = [2, 4, 6, 8];
const rDomB = [6, 9],  rTicksB = [6, 7, 8, 9];
const rDomC = [6.4, 7.713], rTicksC = [6.4, 6.8, 7.2, 7.6];
const rDomAll = [4, 12], rTicksAll = [4, 6, 8, 10, 12];
const panelLetters = ['(a)','(b)','(c)','(d)','(e)','(f)'];
const panelTags = ['sl','atm','ocn','all','all','all'];
const xLabels = ['sea level (m)','surface temperature (\u2009\u02DAC)','shelf temperature (\u2009\u02DAC)'];
const legendNames = ['grounded','floating'];

// ---------- layout ----------
const GRAY = '#404040', TEAL = '#4d9c9c', CROSS = '#5fa7a7';
const panels = [
 {g:groundedSL,f:floatingSL,xd:xDomSL,xt:xTicksSL,yd:yDomA,yt:yTicksA,rd:rDomA,rt:rTicksA,xl:0,l:53.5,r:288,t:33,b:233,tagX:267},
 {g:groundedATM,f:floatingATM,xd:xDomATM,xt:xTicksATM,yd:yDomB,yt:yTicksB,rd:rDomB,rt:rTicksB,xl:1,l:414,r:648,t:33,b:233,tagX:636},
 {g:groundedOCN,f:floatingOCN,xd:xDomOCN,xt:xTicksOCN,yd:yDomC,yt:yTicksC,rd:rDomC,rt:rTicksC,xl:2,l:773,r:1008,t:33,b:233,tagX:991,legend:true},
 {g:groundedSLall,f:floatingSLall,xd:xDomSL,xt:xTicksSL,yd:yDomAll,yt:yTicksAll,rd:rDomAll,rt:rTicksAll,xl:0,l:53.5,r:288,t:320,b:518,tagX:276},
 {g:groundedATMall,f:floatingATMall,xd:xDomATM,xt:xTicksATM,yd:yDomAll,yt:yTicksAll,rd:rDomAll,rt:rTicksAll,xl:1,l:414,r:648,t:320,b:518,tagX:636},
 {g:groundedOCNall,f:floatingOCNall,xd:xDomOCNall,xt:xTicksOCNall,yd:yDomAll,yt:yTicksAll,rd:rDomAll,rt:rTicksAll,xl:2,l:774,r:1008,t:320,b:518,tagX:995}
];

function pairs(a){const r=[];for(let i=0;i<a.length;i+=2)r.push([a[i],a[i+1]]);return r;}
const fmt = d => String(+d.toFixed(4));
const svg = d3.select('#c');
const TS = 3, FS = 15;

function crossPath(cx, cy, s){return `M${cx-s},${cy-s}L${cx+s},${cy+s}M${cx-s},${cy+s}L${cx+s},${cy-s}`;}

function styleAxis(sel, color, labels){
  sel.attr('font-family', null).attr('font-size', null);
  sel.selectAll('line').attr('stroke', color).attr('stroke-width', 0.7);
  sel.selectAll('.domain').attr('stroke', color).attr('stroke-width', 0.9);
  sel.selectAll('text').attr('fill', color).style('font-size', FS+'px');
  if(!labels) sel.selectAll('text').remove();
}

panels.forEach((p, i) => {
  const x = d3.scaleLinear().domain(p.xd).range([p.l, p.r]);
  const yl = d3.scaleLinear().domain(p.yd).range([p.b, p.t]);
  const yr = d3.scaleLinear().domain(p.rd).range([p.b, p.t]);
  const g = svg.append('g');

  g.append('g').selectAll('circle').data(pairs(p.g)).join('circle')
    .attr('cx', d => x(d[0])).attr('cy', d => yl(d[1])).attr('r', 3.3)
    .attr('fill', 'none').attr('stroke', '#333').attr('stroke-width', 0.65).attr('stroke-opacity', 0.9);
  g.append('g').selectAll('path').data(pairs(p.f)).join('path')
    .attr('d', d => crossPath(x(d[0]), yr(d[1]), 2.3))
    .attr('fill', 'none').attr('stroke', CROSS).attr('stroke-width', 0.6);

  const mR = g.append('g').attr('transform', `translate(${p.l},0)`)
    .call(d3.axisLeft(yr).tickValues(p.rt).tickSize(-TS).tickSizeOuter(0));
  mR.select('.domain').remove(); styleAxis(mR, TEAL, false);
  const mL = g.append('g').attr('transform', `translate(${p.r},0)`)
    .call(d3.axisRight(yl).tickValues(p.yt).tickSize(-TS).tickSizeOuter(0));
  mL.select('.domain').remove(); styleAxis(mL, GRAY, false);

  const top = g.append('g').attr('transform', `translate(0,${p.t})`)
    .call(d3.axisTop(x).tickValues(p.xt).tickSize(-TS).tickSizeOuter(0));
  styleAxis(top, GRAY, false);
  const bot = g.append('g').attr('transform', `translate(0,${p.b})`)
    .call(d3.axisBottom(x).tickValues(p.xt).tickFormat(fmt).tickSize(-TS).tickSizeOuter(0).tickPadding(11));
  styleAxis(bot, GRAY, true);
  const left = g.append('g').attr('transform', `translate(${p.l},0)`)
    .call(d3.axisLeft(yl).tickValues(p.yt).tickFormat(fmt).tickSize(-TS).tickSizeOuter(0).tickPadding(6));
  styleAxis(left, GRAY, true);
  const right = g.append('g').attr('transform', `translate(${p.r},0)`)
    .call(d3.axisRight(yr).tickValues(p.rt).tickFormat(fmt).tickSize(-TS).tickSizeOuter(0).tickPadding(6));
  styleAxis(right, TEAL, true);

  const eL = g.append('text').attr('x', p.l + 1).attr('y', p.t - 5).attr('fill', GRAY).style('font-size', '14px');
  eL.append('tspan').text('\u00D710');
  eL.append('tspan').attr('dy', -7).style('font-size', '10.5px').text('7');
  const eR = g.append('text').attr('x', p.r + 3).attr('y', p.t - 12).attr('fill', TEAL).style('font-size', '14px');
  eR.append('tspan').text('\u00D710');
  eR.append('tspan').attr('dy', -6).style('font-size', '10.5px').text('5');

  g.append('text').attr('x', (p.l + p.r) / 2).attr('y', p.b + 44).attr('text-anchor', 'middle')
    .attr('fill', '#262626').style('font-size', '18px').text(xLabels[p.xl]);

  g.append('text').attr('x', p.l + 13).attr('y', p.b - 8).attr('fill', '#000').style('font-size', '20px').text(panelLetters[i]);
  g.append('text').attr('x', p.tagX).attr('y', p.b - 8).attr('text-anchor', 'end').attr('fill', '#000')
    .style('font-size', '20px').style('font-weight', 'bold').text(panelTags[i]);

  if (p.legend) {
    const lg = g.append('g');
    lg.append('rect').attr('x', 892).attr('y', 43).attr('width', 108).attr('height', 36)
      .attr('fill', '#fff').attr('stroke', '#000').attr('stroke-width', 0.7);
    lg.append('circle').attr('cx', 906).attr('cy', 52.5).attr('r', 3.3).attr('fill', 'none').attr('stroke', '#333').attr('stroke-width', 0.65);
    lg.append('path').attr('d', crossPath(906, 69, 2.3)).attr('stroke', CROSS).attr('stroke-width', 0.6);
    lg.selectAll('text.lt').data(legendNames).join('text').attr('class', 'lt')
      .attr('x', 934).attr('y', (d, k) => 57 + k * 16).attr('fill', '#000').style('font-size', '13px').text(d => d);
  }
});
</script></body></html>
